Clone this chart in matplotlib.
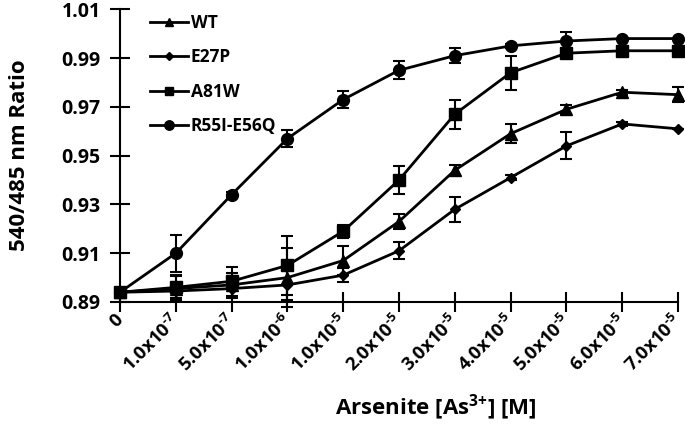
import matplotlib
matplotlib.use("Agg")
import matplotlib.pyplot as plt
import matplotlib.transforms as mtransforms
import numpy as np

plt.rcParams['font.family'] = ['Open Sans', 'DejaVu Sans']
plt.rcParams['font.weight'] = 'bold'
plt.rcParams['mathtext.fontset'] = 'custom'
plt.rcParams['mathtext.rm'] = 'Open Sans:bold'
plt.rcParams['mathtext.bf'] = 'Open Sans:bold'
plt.rcParams['mathtext.it'] = 'Open Sans:bold'

categories = ["0", "1.0x10$^{\\text{-}7}$", "5.0x10$^{\\text{-}7}$", "1.0x10$^{\\text{-}6}$",
              "1.0x10$^{\\text{-}5}$", "2.0x10$^{\\text{-}5}$", "3.0x10$^{\\text{-}5}$",
              "4.0x10$^{\\text{-}5}$", "5.0x10$^{\\text{-}5}$", "6.0x10$^{\\text{-}5}$",
              "7.0x10$^{\\text{-}5}$"]

wt = [0.894, 0.8955, 0.897, 0.900, 0.907, 0.923, 0.944, 0.959, 0.969, 0.976, 0.975]
wt_err = [0.0, 0.005, 0.005, 0.012, 0.006, 0.003, 0.002, 0.004, 0.0018, 0.001, 0.003]

e27p = [0.894, 0.8945, 0.8955, 0.897, 0.901, 0.911, 0.928, 0.941, 0.954, 0.963, 0.961]
e27p_err = [0.0, 0.003, 0.004, 0.006, 0.003, 0.0034, 0.005, 0.001, 0.0055, 0.001, 0.0]

a81w = [0.894, 0.896, 0.8985, 0.905, 0.919, 0.940, 0.967, 0.984, 0.992, 0.993, 0.993]
a81w_err = [0.0, 0.005, 0.006, 0.012, 0.0027, 0.0057, 0.006, 0.007, 0.001, 0.0, 0.0]

r55i = [0.894, 0.910, 0.934, 0.957, 0.973, 0.985, 0.991, 0.995, 0.997, 0.998, 0.998]
r55i_err = [0.0, 0.0075, 0.001, 0.0034, 0.0034, 0.0036, 0.0032, 0.0008, 0.0038, 0.0, 0.0]

series = [("WT", wt, wt_err, "^", 8),
          ("E27P", e27p, e27p_err, "D", 5.5),
          ("A81W", a81w, a81w_err, "s", 8),
          ("R55I-E56Q", r55i, r55i_err, "o", 8.5)]

fig = plt.figure(figsize=(6.85, 4.25), dpi=100)
ax = fig.add_axes([120/685, (425-302)/425, (678-120)/685, (302-9.3)/425])

x = np.arange(len(categories))
handles = []
for name, vals, errs, mk, ms in series:
    c = ax.errorbar(x, vals, yerr=errs, color='black', marker=mk, markersize=ms,
                    linewidth=2, elinewidth=1.5, capsize=4, capthick=1.5,
                    label=name, clip_on=False, zorder=3)
    handles.append(c[0])

ax.set_xlim(0, len(categories) - 1)
ax.set_ylim(0.89, 1.01)
yt = np.round(np.arange(0.89, 1.0101, 0.02), 2)
ax.set_yticks(yt)
ax.set_yticklabels([f"{v:.2f}" for v in yt], fontsize=14, fontweight='bold')
ax.set_xticks(x)
ax.set_xticklabels([])

base = mtransforms.blended_transform_factory(ax.transData, ax.transAxes)
offset = mtransforms.ScaledTranslation(-6/100, -9/100, fig.dpi_scale_trans)
for i, lab in enumerate(categories):
    ax.text(i, 0, lab, transform=base + offset, rotation=45, ha='right', va='top',
            rotation_mode='anchor', fontsize=13.3, fontweight='bold')

for s in ['top', 'right']:
    ax.spines[s].set_visible(False)
for s in ['left', 'bottom']:
    ax.spines[s].set_linewidth(1.5)
ax.tick_params(axis='both', direction='inout', length=14, width=1.5, color='black')
ax.tick_params(axis='y', pad=7)

ax.set_ylabel("540/485 nm Ratio", fontsize=16, fontweight='bold')
ax.yaxis.set_label_coords((30 - 120) / (678 - 120), 0.5)
ax.set_xlabel("Arsenite [As$^{3\\text{+}}$] [M]", fontsize=16, fontweight='bold')
ax.xaxis.set_label_coords((436 - 120) / (678 - 120), -0.31)

leg = ax.legend(handles, [s[0] for s in series], loc='upper left',
                bbox_to_anchor=(0.035, 1.02), frameon=False,
                fontsize=12.5, handlelength=2.2, handletextpad=0.15,
                labelspacing=0.95, borderaxespad=0.2, markerscale=0.8)
for t in leg.get_texts():
    t.set_fontweight('bold')

fig.savefig("out.png", dpi=100)
